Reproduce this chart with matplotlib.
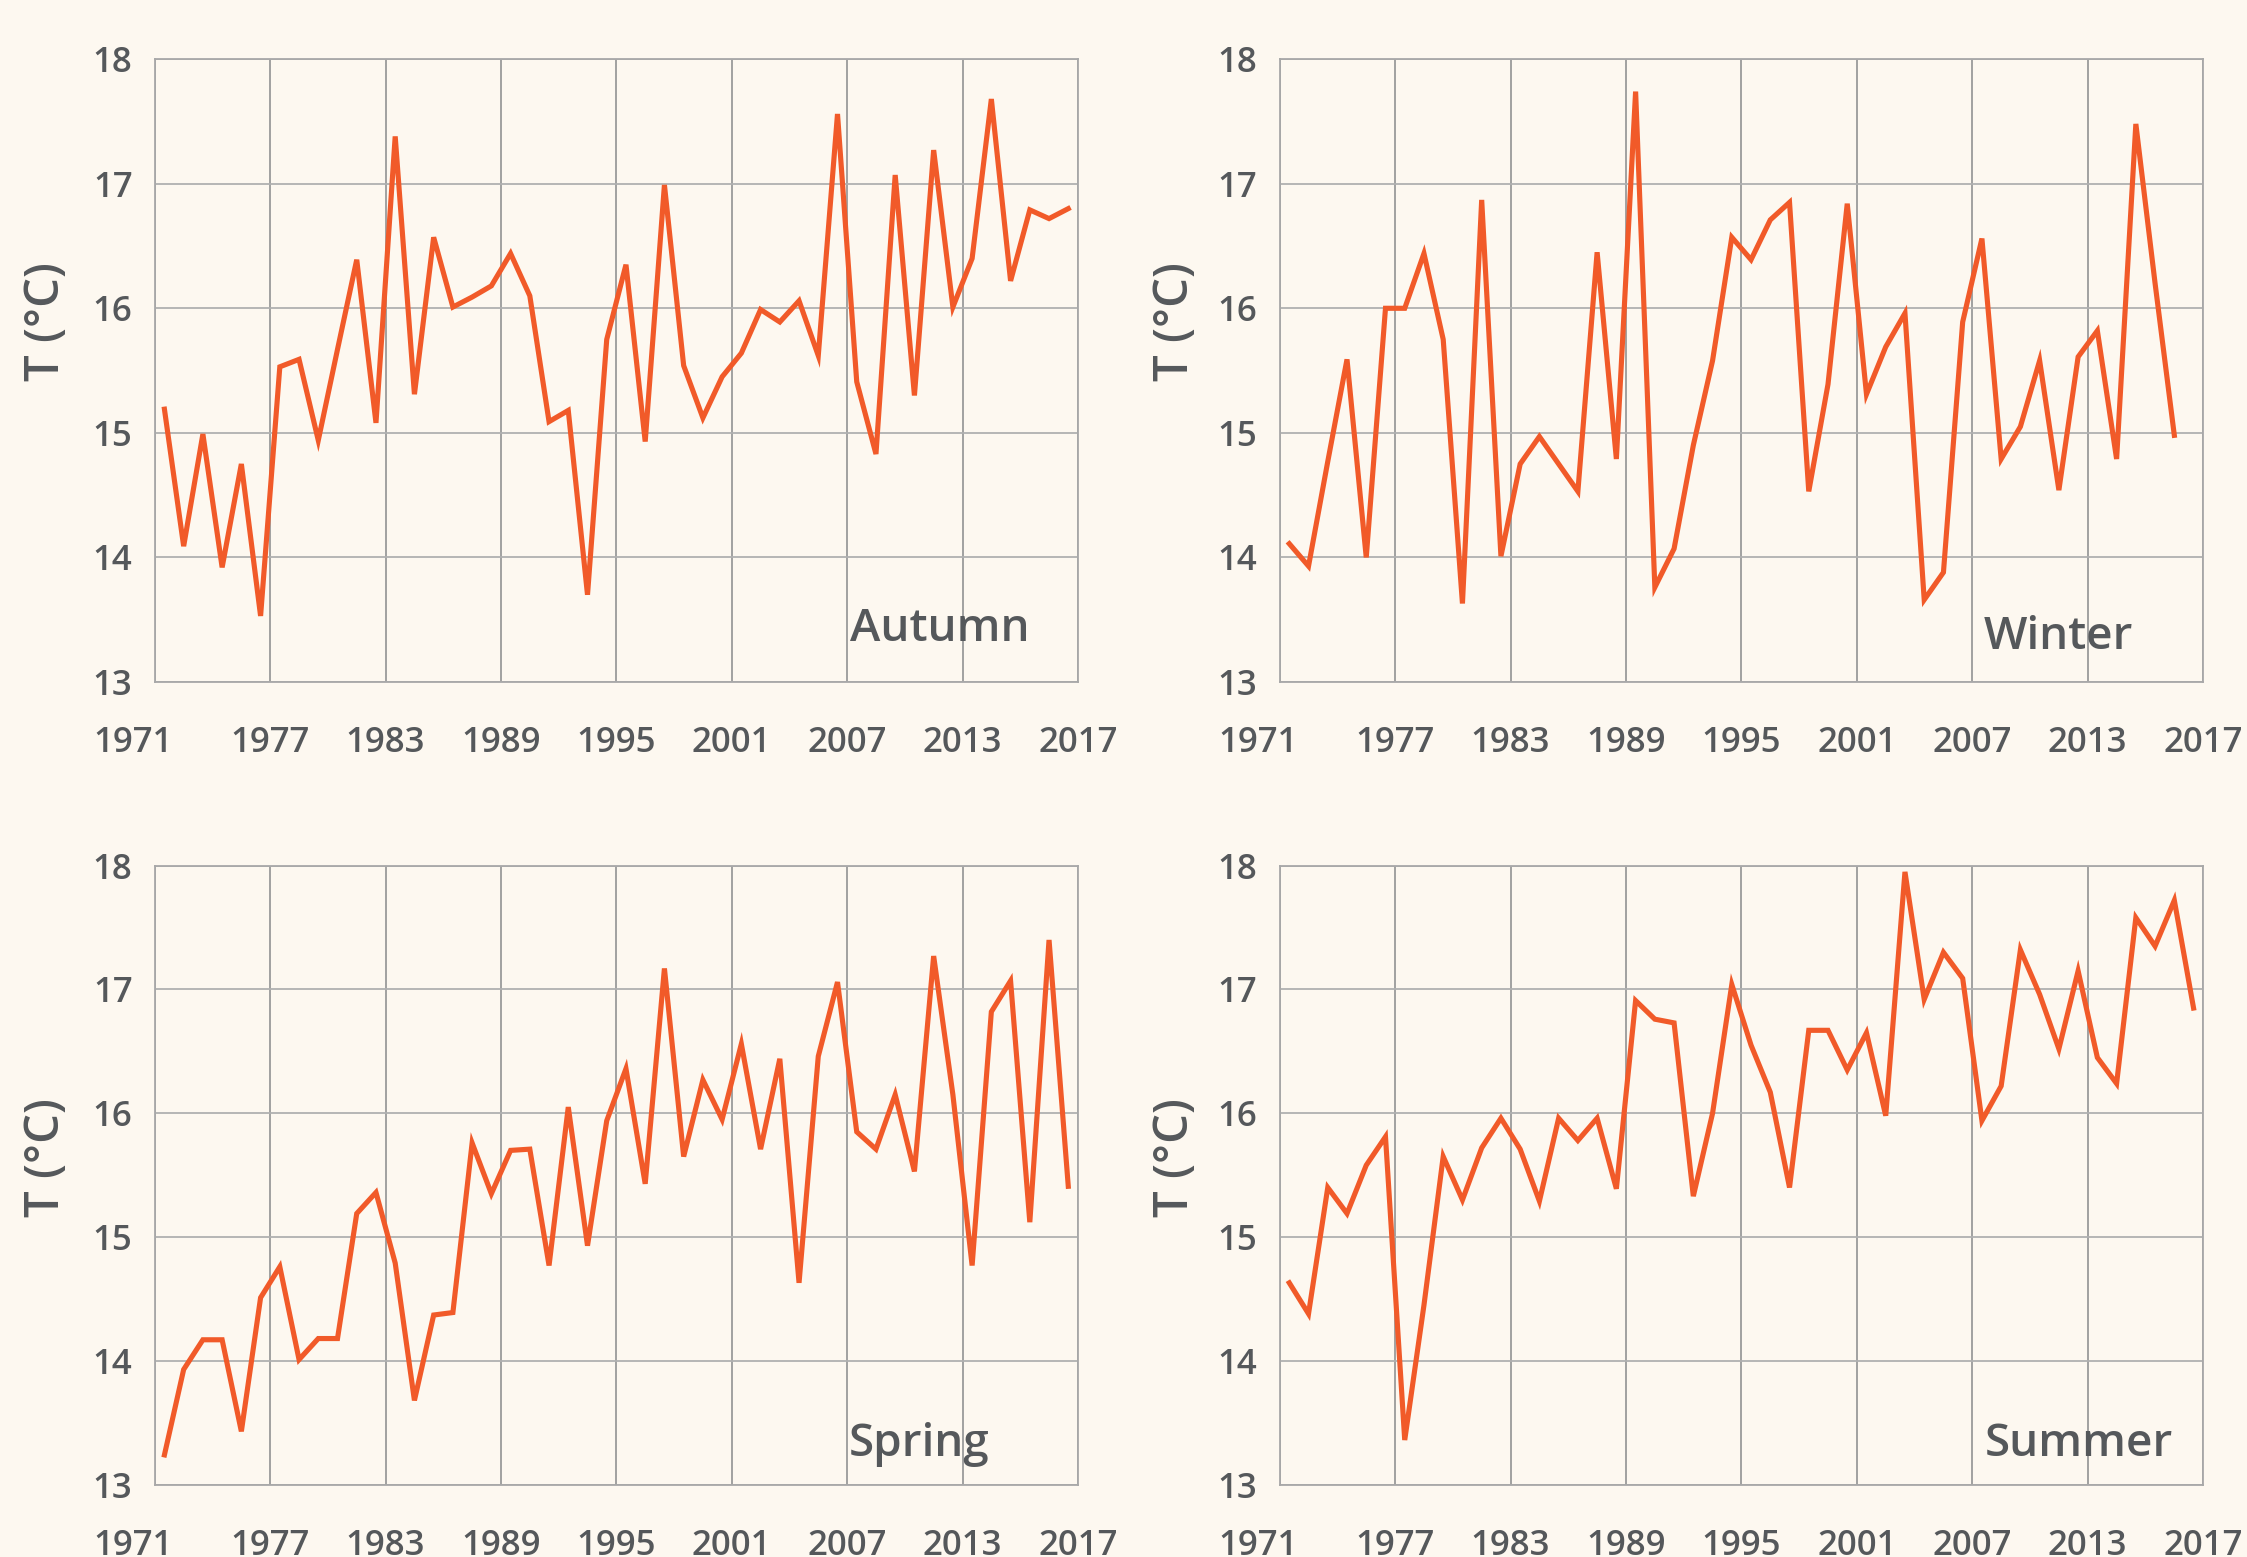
import numpy as np
import matplotlib.pyplot as plt
from matplotlib.transforms import ScaledTranslation

# seasonal mean temperature, one value per year (1971 ...)
years = list(range(1971, 2019))

autumn = [15.19, 14.09, 14.99, 13.92, 14.75, 13.53, 15.53, 15.59, 14.94, 15.67,
          16.39, 15.08, 17.38, 15.31, 16.57, 16.01, 16.09, 16.18, 16.44, 16.10,
          15.09, 15.18, 13.70, 15.75, 16.35, 14.93, 16.99, 15.54, 15.12, 15.45,
          15.64, 15.99, 15.89, 16.06, 15.62, 17.56, 15.41, 14.83, 17.07, 15.30,
          17.27, 16.01, 16.40, 17.68, 16.22, 16.79, 16.72, 16.80]

winter = [14.11, 13.93, 14.77, 15.59, 14.00, 16.00, 16.00, 16.44, 15.75, 13.63,
          16.87, 14.01, 14.75, 14.97, 14.75, 14.53, 16.45, 14.79, 17.74, 13.76,
          14.07, 14.90, 15.58, 16.57, 16.39, 16.71, 16.85, 14.53, 15.39, 16.84,
          15.31, 15.69, 15.96, 13.66, 13.88, 15.89, 16.56, 14.79, 15.05, 15.58,
          14.54, 15.61, 15.82, 14.79, 17.48, 16.20, 14.98]

spring = [13.24, 13.93, 14.17, 14.17, 13.43, 14.51, 14.76, 14.01, 14.18, 14.18,
          15.19, 15.36, 14.79, 13.68, 14.37, 14.39, 15.76, 15.35, 15.70, 15.71,
          14.77, 16.05, 14.93, 15.94, 16.36, 15.43, 17.17, 15.65, 16.27, 15.95,
          16.56, 15.71, 16.44, 14.63, 16.46, 17.06, 15.85, 15.71, 16.15, 15.53,
          17.27, 16.15, 14.77, 16.82, 17.07, 15.12, 17.40, 15.41]

summer = [14.63, 14.38, 15.40, 15.19, 15.58, 15.81, 13.36, 14.45, 15.65, 15.30,
          15.72, 15.96, 15.71, 15.29, 15.96, 15.78, 15.96, 15.39, 16.91, 16.76,
          16.73, 15.33, 16.00, 17.04, 16.55, 16.17, 15.40, 16.67, 16.67, 16.35,
          16.65, 15.98, 17.95, 16.92, 17.30, 17.09, 15.94, 16.22, 17.32, 16.96,
          16.52, 17.15, 16.45, 16.24, 17.58, 17.35, 17.72, 16.85]

seasons = ["Autumn", "Winter", "Spring", "Summer"]
x_ticks = [1971, 1977, 1983, 1989, 1995, 2001, 2007, 2013, 2019]
x_labels = ["1971", "1977", "1983", "1989", "1995", "2001", "2007", "2013", "2017"]
y_ticks = [13, 14, 15, 16, 17, 18]

bg = "#fdf8f0"
orange = "#f15a29"
grey = "#a8a8a8"
txt = "#55585b"

plt.rcParams["font.family"] = ["Open Sans", "DejaVu Sans"]
plt.rcParams["font.weight"] = "semibold"

fig = plt.figure(figsize=(22.47, 15.57), dpi=100, facecolor=bg)

boxes = [[0.0689, 0.562, 0.4108, 0.400],
         [0.5695, 0.562, 0.4110, 0.400],
         [0.0689, 0.0465, 0.4108, 0.3975],
         [0.5695, 0.0465, 0.4110, 0.3975]]
label_pos = [(0.948, 0.066), (0.924, 0.053), (0.904, 0.047), (0.967, 0.047)]
ylab_pos = [(-0.117, 0.579), (-0.113, 0.579), (-0.117, 0.529), (-0.113, 0.529)]
series = [autumn, winter, spring, summer]

for box, name, vals, lp, yp in zip(boxes, seasons, series, label_pos, ylab_pos):
    ax = fig.add_axes(box)
    ax.set_facecolor(bg)
    xs = np.array(years[:len(vals)]) + 0.5
    ax.plot(xs, vals, color=orange, lw=3.7, solid_joinstyle="miter")
    ax.set_xlim(1971, 2019)
    ax.set_ylim(13, 18)
    ax.set_xticks(x_ticks)
    ax.set_xticklabels(x_labels)
    ax.set_yticks(y_ticks)
    ax.grid(True, axis="x", color="#9a9a9a", lw=1.3)
    ax.grid(True, axis="y", color="#b0b0b0", lw=1.3)
    ax.set_axisbelow(True)
    for s in ax.spines.values():
        s.set_color(grey)
        s.set_linewidth(1.3)
    ax.tick_params(length=0, labelsize=25, colors=txt)
    ax.tick_params(axis="x", pad=32)
    ax.tick_params(axis="y", pad=16)
    # first year label sits a little left of its gridline
    first = ax.get_xticklabels()[0]
    first.set_transform(first.get_transform() + ScaledTranslation(-0.22, 0, fig.dpi_scale_trans))
    ax.text(yp[0], yp[1], "T (°C)", transform=ax.transAxes, rotation=90,
            ha="center", va="center", fontsize=34, color=txt)
    ax.text(lp[0], lp[1], name, transform=ax.transAxes, ha="right", va="baseline",
            fontsize=33, color=txt)

fig.savefig("out.png", dpi=100, facecolor=bg)
